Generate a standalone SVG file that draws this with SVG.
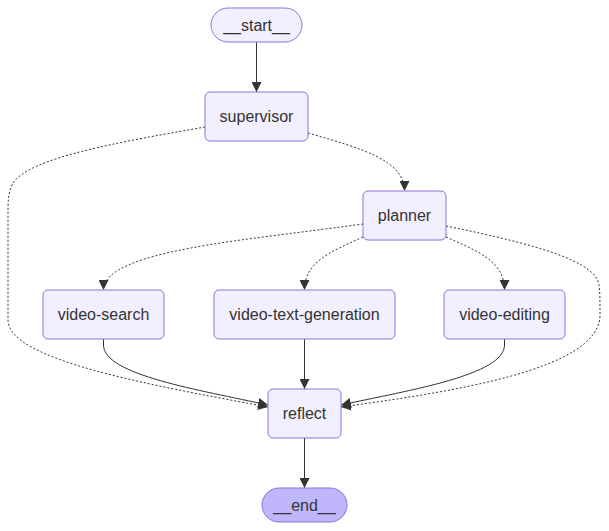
<svg xmlns="http://www.w3.org/2000/svg" width="609" height="531" viewBox="0 0 609 531">
<style>
.node rect{fill:#f2f0ff;stroke:#9370db;stroke-width:1}
.node.end rect{fill:#bfb6fc}
.node text{font-family:"Liberation Sans",Arial,sans-serif;font-size:16px;fill:#333;text-anchor:middle;dominant-baseline:central}
.edge{fill:none;stroke:#333;stroke-width:1;marker-end:url(#arr)}
.dot{stroke-dasharray:2,2}
</style>
<defs>
<marker id="arr" markerUnits="userSpaceOnUse" markerWidth="10" markerHeight="10" viewBox="0 0 10 10" refX="10" refY="5" orient="auto">
<path d="M0,0 L10,5 L0,10 z" fill="#333"/>
</marker>
</defs>
<rect width="609" height="531" fill="#fff"/>
<g id="edges">
<path class="edge" d="M256.5,42 L256.5,92"/>
<path class="edge dot" d="M308,133 C360,148 404.5,160 404.5,191"/>
<path class="edge dot" d="M205,127 C120,142 25,158 12,185 C8,195 8,200 8,215 L8,320 C8,360 150,385 268,407"/>
<path class="edge dot" d="M363,224 C250,240 103.5,250 103.5,290"/>
<path class="edge dot" d="M363,237 C330,252 304.5,262 304.5,290"/>
<path class="edge dot" d="M446,237 C480,252 504.5,262 504.5,290"/>
<path class="edge dot" d="M446,226 C540,245 596,262 599,285 C600,292 600,300 600,315 C600,370 450,392 341,407"/>
<path class="edge" d="M103.5,339 L103.5,345 C103.5,375 200,390 268,405"/>
<path class="edge" d="M304.5,339 L304.5,389"/>
<path class="edge" d="M504.5,339 L504.5,345 C504.5,375 410,390 341,405"/>
<path class="edge" d="M304.5,438 L304.5,488"/>
</g>
<g id="start" class="node"><rect x="211" y="8" width="91" height="34" rx="17"/><text x="256.5" y="25">__start__</text></g>
<g id="supervisor" class="node"><rect x="205" y="92" width="103" height="49" rx="5"/><text x="256.5" y="116.5">supervisor</text></g>
<g id="planner" class="node"><rect x="363" y="191" width="83" height="49" rx="5"/><text x="404.5" y="215.5">planner</text></g>
<g id="video-search" class="node"><rect x="43" y="290" width="121" height="49" rx="5"/><text x="103.5" y="314.5">video-search</text></g>
<g id="video-text-generation" class="node"><rect x="214" y="290" width="181" height="49" rx="5"/><text x="304.5" y="314.5">video-text-generation</text></g>
<g id="video-editing" class="node"><rect x="444" y="290" width="121" height="49" rx="5"/><text x="504.5" y="314.5">video-editing</text></g>
<g id="reflect" class="node"><rect x="268" y="389" width="73" height="49" rx="5"/><text x="304.5" y="413.5">reflect</text></g>
<g id="end" class="node end"><rect x="262" y="488" width="85" height="34" rx="17"/><text x="304.5" y="505">__end__</text></g>
</svg>
